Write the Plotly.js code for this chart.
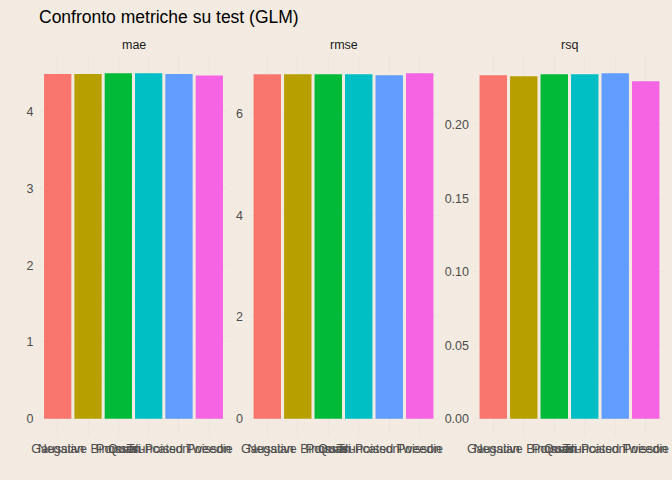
<!DOCTYPE html>
<html>
<head>
<meta charset="utf-8">
<script src="https://cdn.plot.ly/plotly-3.0.1.min.js"></script>
<style>html,body{margin:0;padding:0;background:#F3EBE1;}</style>
</head>
<body>
<div id="chart" style="width:672px;height:480px;"></div>
<script>
// ---- data ----
const models = ["Gaussian", "Negative Binomial", "Poisson", "Quasi-Poisson", "Truncated Poisson", "Tweedie"];
const metrics = ["mae", "rmse", "rsq"];
const maeVals  = [4.49, 4.49, 4.50, 4.50, 4.49, 4.47];
const rmseVals = [6.77, 6.77, 6.77, 6.77, 6.75, 6.79];
const rsqVals  = [0.2335, 0.2329, 0.2342, 0.2342, 0.2349, 0.2295];
const maeTicks  = [0, 1, 2, 3, 4];
const rmseTicks = [0, 2, 4, 6];
const rsqTicks  = [0, 0.05, 0.10, 0.15, 0.20];
const rsqTickText = ["0.00", "0.05", "0.10", "0.15", "0.20"];
const colors = ["#F8766D", "#B79F00", "#00BA38", "#00BFC4", "#619CFF", "#F564E3"];

// ---- layout helpers ----
const W = 672, H = 480;
const bg = "#F3EBE1";
const gridCol = "#EAE5DF";
const font = "Liberation Sans, Arial, sans-serif";
const panelsPx = [[39.5, 227.5], [249, 438], [475, 664]];
const yTopPx = 56, yBotPx = 436;
const yDom = [1 - yBotPx / H, 1 - yTopPx / H];

const series = [maeVals, rmseVals, rsqVals];
const tickSets = [maeTicks, rmseTicks, rsqTicks];
const tickTexts = [maeTicks.map(String), rmseTicks.map(String), rsqTickText];
const minorD = [0.5, 1, 0.025];

const traces = [];
const layout = {
  width: W, height: H,
  paper_bgcolor: bg, plot_bgcolor: bg,
  margin: {l: 0, r: 0, t: 0, b: 0},
  showlegend: false,
  bargap: 0.1,
  font: {family: font, color: "#4D4D4D", size: 12.5},
  title: {
    text: "Confronto metriche su test (GLM)",
    x: 39 / W, xanchor: "left", xref: "paper",
    y: 1 - 17 / H, yanchor: "middle", yref: "paper",
    font: {family: font, size: 17.5, color: "#000000"}
  },
  annotations: []
};

series.forEach((vals, i) => {
  const xa = i === 0 ? "x" : "x" + (i + 1);
  const ya = i === 0 ? "y" : "y" + (i + 1);
  traces.push({
    type: "bar", x: models, y: vals, xaxis: xa, yaxis: ya,
    marker: {color: colors, line: {width: 0}},
    hoverinfo: "x+y"
  });
  const mx = Math.max(...vals);
  const xKey = i === 0 ? "xaxis" : "xaxis" + (i + 1);
  const yKey = i === 0 ? "yaxis" : "yaxis" + (i + 1);
  layout[xKey] = {
    domain: [panelsPx[i][0] / W, panelsPx[i][1] / W],
    anchor: ya, type: "category",
    range: [-0.6, models.length - 0.4],
    showgrid: true, gridcolor: gridCol, gridwidth: 1,
    zeroline: false, showline: false, ticks: "",
    tickangle: 0, ticklabelstandoff: 3,
    tickfont: {family: font, size: 12.5, color: "#4D4D4D"},
    fixedrange: true
  };
  layout[yKey] = {
    domain: yDom, anchor: xa,
    range: [-0.05 * mx, 1.05 * mx],
    tickvals: tickSets[i], ticktext: tickTexts[i],
    showgrid: true, gridcolor: gridCol, gridwidth: 1,
    minor: {dtick: minorD[i], tick0: 0, showgrid: true, gridcolor: "#EEE9E3", gridwidth: 0.6, ticks: ""},
    zeroline: false, showline: false, ticks: "",
    ticklabelstandoff: 5,
    tickfont: {family: font, size: 12.5, color: "#4D4D4D"},
    fixedrange: true
  };
  layout.annotations.push({
    text: metrics[i], showarrow: false,
    xref: "paper", yref: "paper",
    x: (panelsPx[i][0] + panelsPx[i][1]) / 2 / W,
    y: 1 - 45 / H, xanchor: "center", yanchor: "middle",
    font: {family: font, size: 12.5, color: "#1A1A1A"}
  });
});

Plotly.newPlot("chart", traces, layout, {displayModeBar: false, staticPlot: true});
</script>
</body>
</html>
